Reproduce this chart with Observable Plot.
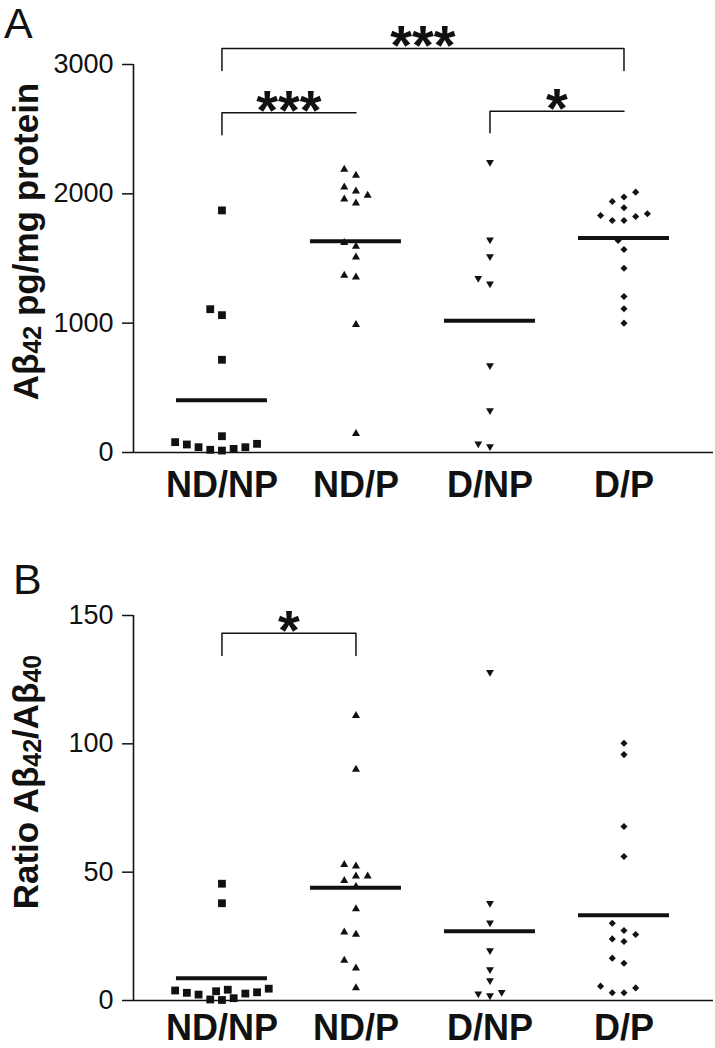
<!DOCTYPE html>
<html><head><meta charset="utf-8">
<script src="https://cdn.jsdelivr.net/npm/d3@7"></script>
<script src="https://cdn.jsdelivr.net/npm/@observablehq/plot@0.6"></script>
<style>
body{margin:0;background:#fff;font-family:"Liberation Sans",Arial,sans-serif;}
#wrap{position:relative;width:715px;height:1048px;overflow:hidden;}
.panel{position:absolute;left:0;}
.tag{position:absolute;font-size:43px;line-height:1.1;color:#111;font-family:"Liberation Sans",Arial,sans-serif;}
</style></head><body>
<div id="wrap">
 <div id="pa" class="panel" style="top:0"></div>
 <div id="pb" class="panel" style="top:510px"></div>
 <div class="tag" style="left:4px;top:0px">A</div>
 <div class="tag" style="left:13px;top:556px">B</div>
</div>
<script>
// ---- data ----
const groups = ["ND/NP", "ND/P", "D/NP", "D/P"];

// Panel A: Aβ42 pg/mg protein
const abetaNDNP = [1872, 1108, 1062, 717, 126, 80, 67, 41, 28, 15, 21, 41, 62];
const abetaNDP  = [2189, 2142, 2052, 2021, 1988, 1959, 1928, 1622, 1593, 1511, 1369, 1356, 988, 145];
const abetaDNP  = [2245, 1645, 1516, 1348, 1305, 673, 325, 46, 67];
const abetaDP   = [2013, 1975, 1941, 1892, 1846, 1833, 1825, 1794, 1794, 1640, 1570, 1425, 1206, 1111, 1000];

// Panel B: ratio Aβ42/Aβ40
const ratioNDNP = [45.5, 37.9, 3.0, 2.7, 0.9, 3.9, 4.6, 3.6, 0.2, 0.4, 4.2, 2.3, 3.2];
const ratioNDP  = [111, 90, 52.9, 52.3, 48.4, 46.7, 48.4, 44.4, 35.7, 25.7, 26.6, 15.6, 12.6, 4.9];
const ratioDNP  = [127.9, 37.9, 30.3, 19.5, 12.1, 7.8, 3.2, 1.9, 2.6];
const ratioDP   = [100.2, 95.8, 67.8, 56.1, 30.1, 27.3, 25.7, 24.0, 23.0, 16.5, 14.5, 5.6, 4.9, 3.0, 3.0];

const ticksA = [0, 1000, 2000, 3000];
const ticksB = [0, 50, 100, 150];

// significance brackets (y in data units)
const bracketsA = [
  {from: "ND/NP", to: "D/P",  top: 3124, dropFrom: 2954, dropTo: 2954, label: "***"},
  {from: "ND/NP", to: "ND/P", top: 2627, dropFrom: 2457, dropTo: 2627, label: "***"},
  {from: "D/NP",  to: "D/P",  top: 2639, dropFrom: 2472, dropTo: 2639, label: "*"}
];
const bracketsB = [
  {from: "ND/NP", to: "ND/P", top: 143.1, dropFrom: 134.4, dropTo: 134.4, label: "*"}
];

const labelA = [["Aβ", false], ["42", true], [" pg/mg protein", false]];
const labelB = [["Ratio Aβ", false], ["42", true], ["/Aβ", false], ["40", true]];

// ---- drawing ----
const W = 715, ML = 133, MR = 2;
const xDomain = [-0.66, 3.668];
const pxPerX = (W - ML - MR) / (xDomain[1] - xDomain[0]);
const INK = "#111";

const triangleDown = {
  draw(ctx, size) {
    const y = Math.sqrt(size / (Math.sqrt(3) * 3));
    ctx.moveTo(0, 2 * y);
    ctx.lineTo(-Math.sqrt(3) * y, -y);
    ctx.lineTo(Math.sqrt(3) * y, -y);
    ctx.closePath();
  }
};
const symbols = [d3.symbolSquare, d3.symbolTriangle, triangleDown, d3.symbolDiamond2];
const radii = [4.4, 3.0, 2.9, 3.2];

// column-scatter placement: points that would collide are pushed sideways
function swarm(values, yScale, step, minDist) {
  const order = d3.range(values.length).sort((a, b) => values[a] - values[b]);
  const placed = [], off = new Array(values.length);
  const cands = [0];
  for (let k = 1; k <= 12; k++) cands.push(-k, k);
  for (const i of order) {
    const py = yScale.apply(values[i]);
    for (const k of cands) {
      const px = k * step;
      if (placed.every(p => Math.hypot(p.px - px, p.py - py) >= minDist)) {
        off[i] = px; placed.push({px, py}); break;
      }
    }
  }
  return off;
}

function panel({series, yMax, ticks, brackets, label, height, marginTop, marginBottom, labelDy, xPad}) {
  const yScale = Plot.scale({y: {domain: [0, yMax], range: [height - marginBottom, marginTop]}});
  const pts = [];
  series.forEach((vals, gi) => {
    const off = swarm(vals, yScale, 5.85, 10);
    vals.forEach((v, k) => pts.push({gi, value: v, x: gi + off[k] / pxPerX}));
  });
  const means = series.map((vals, gi) => ({gi, mean: d3.mean(vals)}));
  const hw = 45.5 / pxPerX;
  const bracketPts = brackets.flatMap((b, bi) => {
    const a = groups.indexOf(b.from), c = groups.indexOf(b.to);
    return [{id: bi, x: a, y: b.dropFrom}, {id: bi, x: a, y: b.top}, {id: bi, x: c, y: b.top}, {id: bi, x: c, y: b.dropTo}];
  });
  const stars = brackets.map(b => ({x: (groups.indexOf(b.from) + groups.indexOf(b.to)) / 2, y: b.top, label: b.label}));
  const joined = label.map(p => p[0]).join("");

  const svg = Plot.plot({
    width: W, height, marginLeft: ML, marginRight: MR, marginTop, marginBottom,
    x: {domain: xDomain},
    y: {domain: [0, yMax]},
    style: {fontFamily: "'Liberation Sans', Arial, sans-serif", color: INK, background: "transparent", overflow: "visible"},
    marks: [
      Plot.axisY({ticks, tickSize: 11, tickPadding: 9, fontSize: 27, tickFormat: d3.format("d"), label: null, strokeWidth: 1.5}),
      Plot.axisX({ticks: d3.range(groups.length), tickFormat: i => groups[i], tickSize: 0, tickPadding: xPad, fontSize: 36, fontWeight: "bold", label: null}),
      Plot.ruleY([0], {stroke: INK, strokeWidth: 1.6}),
      Plot.ruleX([xDomain[0]], {stroke: INK, strokeWidth: 1.6}),
      ...groups.map((g, gi) => Plot.dot(pts.filter(p => p.gi === gi), {x: "x", y: "value", symbol: symbols[gi], r: radii[gi], fill: INK, stroke: "none"})),
      Plot.ruleY(means, {y: "mean", x1: d => d.gi - hw, x2: d => d.gi + hw, stroke: INK, strokeWidth: 4}),
      Plot.line(bracketPts, {x: "x", y: "y", z: "id", stroke: INK, strokeWidth: 1.5}),
      Plot.text(stars, {x: "x", y: "y", text: "label", fontSize: 56, fontWeight: "bold", lineAnchor: "bottom", dy: 16, fill: INK}),
      Plot.text([joined], {frameAnchor: "left", text: d => d, rotate: -90, textAnchor: "middle", dx: -107, dy: labelDy, fontSize: 35, fontWeight: "bold", fill: INK})
    ]
  });
  // subscripts in the y label
  const t = Array.from(svg.querySelectorAll("text")).find(e => e.textContent === joined);
  if (t) {
    t.textContent = "";
    let prevSub = false;
    for (const [s, sub] of label) {
      const ts = document.createElementNS("http://www.w3.org/2000/svg", "tspan");
      ts.textContent = s;
      if (sub) { ts.setAttribute("font-size", "25"); if (!prevSub) ts.setAttribute("dy", "3"); }
      else if (prevSub) ts.setAttribute("dy", "-3");
      t.appendChild(ts);
      prevSub = sub;
    }
  }
  return svg;
}

document.getElementById("pa").append(panel({
  series: [abetaNDNP, abetaNDP, abetaDNP, abetaDP], yMax: 3000, ticks: ticksA, brackets: bracketsA,
  label: labelA, height: 510, marginTop: 64, marginBottom: 58, labelDy: -17, xPad: 19
}));
document.getElementById("pb").append(panel({
  series: [ratioNDNP, ratioNDP, ratioDNP, ratioDP], yMax: 150, ticks: ticksB, brackets: bracketsB,
  label: labelB, height: 538, marginTop: 105, marginBottom: 48, labelDy: -26, xPad: 14
}));
</script>
</body></html>
